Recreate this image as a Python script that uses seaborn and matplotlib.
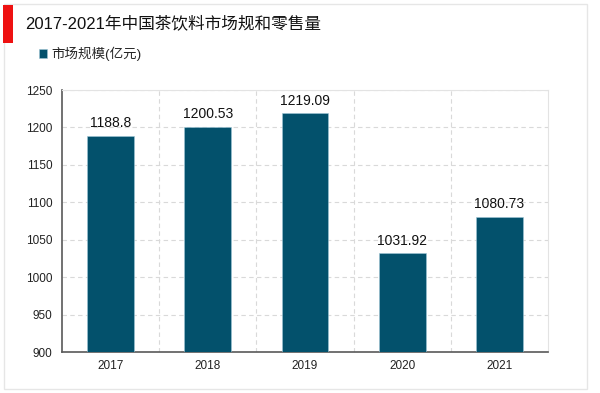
import matplotlib
matplotlib.use("Agg")
import matplotlib.pyplot as plt
import seaborn as sns
import pandas as pd
from matplotlib.patches import Rectangle

years = ["2017", "2018", "2019", "2020", "2021"]
values = [1188.8, 1200.53, 1219.09, 1031.92, 1080.73]
value_labels = ["1188.8", "1200.53", "1219.09", "1031.92", "1080.73"]
yticks = [900, 950, 1000, 1050, 1100, 1150, 1200, 1250]
title = "2017-2021年中国茶饮料市场规和零售量"
series_name = "市场规模(亿元)"

sns.set_theme(style="white")
plt.rcParams['font.family'] = ['Liberation Sans', 'Noto Sans CJK SC', 'DejaVu Sans']

df = pd.DataFrame({"year": years, "value": values})

fig = plt.figure(figsize=(6, 3.93), dpi=100)
ax = fig.add_axes([62/600, 1-352/393, (548-62)/600, (352-90)/393])

bar_color = "#03516C"
sns.barplot(data=df, x="year", y="value", color=bar_color, saturation=1,
            width=0.48, ax=ax, label=series_name, edgecolor="#9fc6d6", linewidth=0.4, zorder=3)

ax.set_ylim(900, 1250)
ax.set_yticks(yticks)
ax.set_yticklabels([str(t) for t in yticks])
ax.set_xlim(-0.5, len(years) - 0.5)
ax.set_xlabel("")
ax.set_ylabel("")

ax.set_xticks([i + 0.5 for i in range(len(years) - 1)], minor=True)
ax.grid(axis="y", which="major", linestyle=(0, (4, 3)), color="#d9d9d9", linewidth=0.8, zorder=0)
ax.grid(axis="x", which="minor", linestyle=(0, (4, 3)), color="#d9d9d9", linewidth=0.8, zorder=0)
ax.grid(axis="x", which="major", visible=False)
ax.tick_params(axis="both", which="both", length=0, labelsize=8.5, colors="#222222")
ax.tick_params(axis="y", pad=7)
ax.tick_params(axis="x", pad=6)

for side in ["left", "bottom"]:
    ax.spines[side].set_color("#595959")
    ax.spines[side].set_linewidth(1.2)
for side in ["top", "right"]:
    ax.spines[side].set_color("#e3e3e3")
    ax.spines[side].set_linewidth(0.8)

for container in ax.containers:
    ax.bar_label(container, labels=value_labels, padding=4, fontsize=10, color="#111111")

leg = ax.legend(loc="upper left", bbox_to_anchor=(39/600, 1-47/393), bbox_transform=fig.transFigure,
                frameon=False, fontsize=9.7, handlelength=0.6, handleheight=0.6, handletextpad=0.3,
                borderaxespad=0, borderpad=0)

fig.text(25/600, 1-23/393, title, fontsize=12, va="center", ha="left", color="#111111")

fig.patches.append(Rectangle((4/600, 1-389/393), (587-4)/600, (389-4)/393, transform=fig.transFigure,
                             fill=False, edgecolor="#e6e6e6", linewidth=1.0, zorder=0))
fig.patches.append(Rectangle((3/600, 1-43/393), 10/600, 38/393, transform=fig.transFigure,
                             facecolor="#ee1111", edgecolor="none", zorder=1))

fig.savefig("out.png", dpi=100)
